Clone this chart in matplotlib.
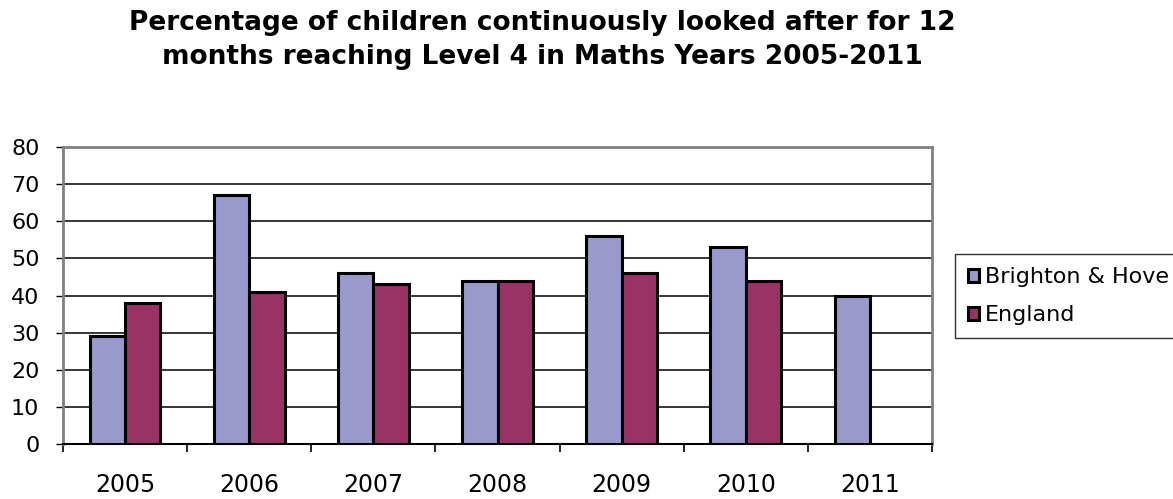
import matplotlib
matplotlib.use("Agg")
import matplotlib.pyplot as plt
import numpy as np

years = ["2005", "2006", "2007", "2008", "2009", "2010", "2011"]
brighton = [29, 67, 46, 44, 56, 53, 40]
england = [38, 41, 43, 44, 46, 44, np.nan]
series_names = ["Brighton & Hove", "England"]
title = "Percentage of children continuously looked after for 12\nmonths reaching Level 4 in Maths Years 2005-2011"

plt.rcParams['font.family'] = ['DejaVu Sans']

fig = plt.figure(figsize=(11.73, 4.99), dpi=100)
ax = fig.add_axes([63/1173, 55/499, (932-63)/1173, (444-147)/499])

x = np.arange(len(years))
w = 0.285
ax.bar(x - w/2, brighton, w, color="#9999CC", edgecolor="black", linewidth=2.2,
       label=series_names[0], zorder=3)
ax.bar(x + w/2, england, w, color="#993366", edgecolor="black", linewidth=2.2,
       label=series_names[1], zorder=3)

ax.set_xlim(-0.5, len(years) - 0.5)
ax.set_ylim(0, 80)
ax.set_yticks(range(0, 81, 10))
ax.yaxis.grid(True, color="black", linewidth=1.1, zorder=0)
ax.tick_params(axis="y", labelsize=16, length=5, width=1, pad=12, colors="black")

ax.set_xticks(np.arange(-0.5, len(years), 1.0))
ax.set_xticklabels([])
ax.tick_params(axis="x", which="major", length=6, width=1.2, color="black")
ax.set_xticks(x, minor=True)
ax.set_xticklabels(years, minor=True, fontsize=17)
ax.tick_params(axis="x", which="minor", length=0, pad=21)

for s in ["left", "right", "top"]:
    ax.spines[s].set_color("#808080")
ax.spines["left"].set_linewidth(2)
ax.spines["right"].set_linewidth(2)
ax.spines["top"].set_linewidth(2)
ax.spines["bottom"].set_color("black")
ax.spines["bottom"].set_linewidth(1.5)

fig.text(542/1173, 1 - 40/499, title, ha="center", va="center",
         fontsize=19, fontweight="bold", linespacing=1.35)

leg = fig.legend(loc="upper left", bbox_to_anchor=(955/1173, 1 - 254/499),
                 fontsize=16, frameon=True, fancybox=False, edgecolor="black",
                 handlelength=0.5, handleheight=0.5, handletextpad=0.25,
                 borderpad=0.6, labelspacing=0.8, borderaxespad=0)
leg.get_frame().set_linewidth(1)

fig.savefig("out.png", dpi=100)
